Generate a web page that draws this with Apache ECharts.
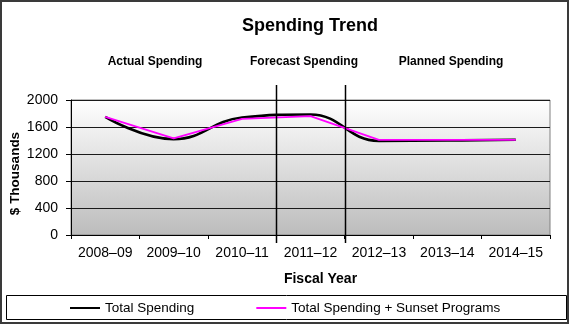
<!DOCTYPE html>
<html>
<head>
<meta charset="utf-8">
<script src="https://cdn.jsdelivr.net/npm/echarts@6/dist/echarts.min.js"></script>
<style>
  html, body { margin: 0; padding: 0; background: #fff; }
  #chart { width: 570px; height: 325px; }
</style>
</head>
<body>
<div id="chart"></div>
<script>
// Fiscal years on the category axis
const fiscalYears = ['2008\u201309', '2009\u201310', '2010\u201311', '2011\u201312', '2012\u201313', '2013\u201314', '2014\u201315'];
// Spending in $ thousands
const totalSpending = [1750, 1420, 1740, 1785, 1395, 1400, 1410];
const totalWithSunset = [1750, 1430, 1720, 1760, 1410, 1410, 1410];
// Period headings
const periodLabels = ['Actual Spending', 'Forecast Spending', 'Planned Spending'];
// Category indexes where the forecast and planned periods begin
const periodBreaks = [3, 4];
const yTicks = { min: 0, max: 2000, interval: 400 };
const yAxisTitle = '$ Thousands';

const FONT = '"Liberation Sans", Arial, sans-serif';

const chart = echarts.init(document.getElementById('chart'), null, { renderer: 'canvas' });

const option = {
  animation: false,
  backgroundColor: '#fff',
  textStyle: { fontFamily: FONT },
  title: {
    text: 'Spending Trend',
    left: 305, top: 12,
    textAlign: 'center',
    textStyle: { fontFamily: FONT, fontSize: 18, fontWeight: 'bold', color: '#000' }
  },
  legend: {
    left: 70, top: 301,
    padding: 0,
    itemWidth: 30, itemHeight: 2, itemGap: 62,
    icon: 'rect',
    textStyle: { fontFamily: FONT, fontSize: 13.5, color: '#000' },
    data: ['Total Spending', 'Total Spending + Sunset Programs']
  },
  grid: {
    left: 71, right: 20, top: 100, bottom: 90,
    outerBoundsMode: 'none',
    containLabel: false,
    show: true,
    borderColor: '#808080', borderWidth: 1,
    backgroundColor: new echarts.graphic.LinearGradient(0, 0, 0, 1, [
      { offset: 0, color: '#ffffff' },
      { offset: 1, color: '#bcbcbc' }
    ])
  },
  xAxis: {
    type: 'category',
    data: fiscalYears,
    boundaryGap: true,
    name: 'Fiscal Year',
    nameLocation: 'middle',
    nameGap: 37,
    nameTextStyle: { fontFamily: FONT, fontSize: 14, fontWeight: 'bold', color: '#000', padding: [0, 0, 0, 20] },
    axisLine: { lineStyle: { color: '#000', width: 1 } },
    axisTick: { show: true, length: 4, lineStyle: { color: '#000' } },
    axisLabel: { fontFamily: FONT, fontSize: 14, color: '#000', margin: 11, interval: 0, hideOverlap: false },
    splitLine: { show: false }
  },
  yAxis: {
    type: 'value',
    min: yTicks.min, max: yTicks.max, interval: yTicks.interval,
    axisLine: { show: true, lineStyle: { color: '#000', width: 1 } },
    axisTick: { show: true, length: 5, lineStyle: { color: '#000' } },
    axisLabel: {
      fontFamily: FONT, fontSize: 14, color: '#000', margin: 13,
      formatter: function (v) { return String(v); }
    },
    splitLine: { show: true, lineStyle: { color: '#1a1a1a', width: 1 } }
  },
  series: [
    {
      name: 'Total Spending',
      type: 'line',
      data: totalSpending,
      smooth: 0.45,
      showSymbol: false,
      symbol: 'none',
      color: '#000',
      lineStyle: { color: '#000', width: 2.6 },
      z: 3
    },
    {
      name: 'Total Spending + Sunset Programs',
      type: 'line',
      data: totalWithSunset,
      smooth: false,
      showSymbol: false,
      symbol: 'none',
      color: '#ff00ff',
      lineStyle: { color: '#ff00ff', width: 1.8 },
      z: 4
    }
  ]
};

chart.setOption(option);

// Frame, legend box and period dividers placed from the axis scale
function boundaryX(i) {
  const a = chart.convertToPixel({ xAxisIndex: 0 }, 0);
  const b = chart.convertToPixel({ xAxisIndex: 0 }, 1);
  const band = b - a;
  return a - band / 2 + band * i;
}
const topY = chart.convertToPixel({ yAxisIndex: 0 }, yTicks.max);
const botY = chart.convertToPixel({ yAxisIndex: 0 }, yTicks.min);

const graphics = [
  {
    type: 'rect', silent: true, z: 0,
    shape: { x: 1, y: 1, width: 567, height: 322 },
    style: { fill: null, stroke: '#3a3a3a', lineWidth: 2 }
  },
  {
    type: 'rect', silent: true, z: 0,
    shape: { x: 6.5, y: 295.5, width: 560, height: 24 },
    style: { fill: '#fff', stroke: '#000', lineWidth: 1 }
  },
  {
    // vertical value-axis title
    type: 'text', silent: true, z: 10,
    x: 15, y: (topY + botY) / 2 + 6,
    rotation: Math.PI / 2,
    style: {
      text: yAxisTitle, fill: '#000',
      font: 'bold 13.5px ' + FONT,
      align: 'center', verticalAlign: 'middle'
    }
  }
];
periodBreaks.forEach(function (i) {
  const x = Math.round(boundaryX(i)) + 0.5;
  graphics.push({
    type: 'line', silent: true, z: 10,
    shape: { x1: x, y1: topY - 15, x2: x, y2: botY + 8 },
    style: { stroke: '#000', lineWidth: 1.5 }
  });
});
// Heading positions above the plot
const headingX = [155, 304, 451];
periodLabels.forEach(function (label, k) {
  graphics.push({
    type: 'text', silent: true, z: 10,
    x: headingX[k], y: 62,
    style: {
      text: label, fill: '#000',
      font: 'bold 12px ' + FONT,
      align: 'center', verticalAlign: 'middle'
    }
  });
});

chart.setOption({ graphic: graphics });
</script>
</body>
</html>
